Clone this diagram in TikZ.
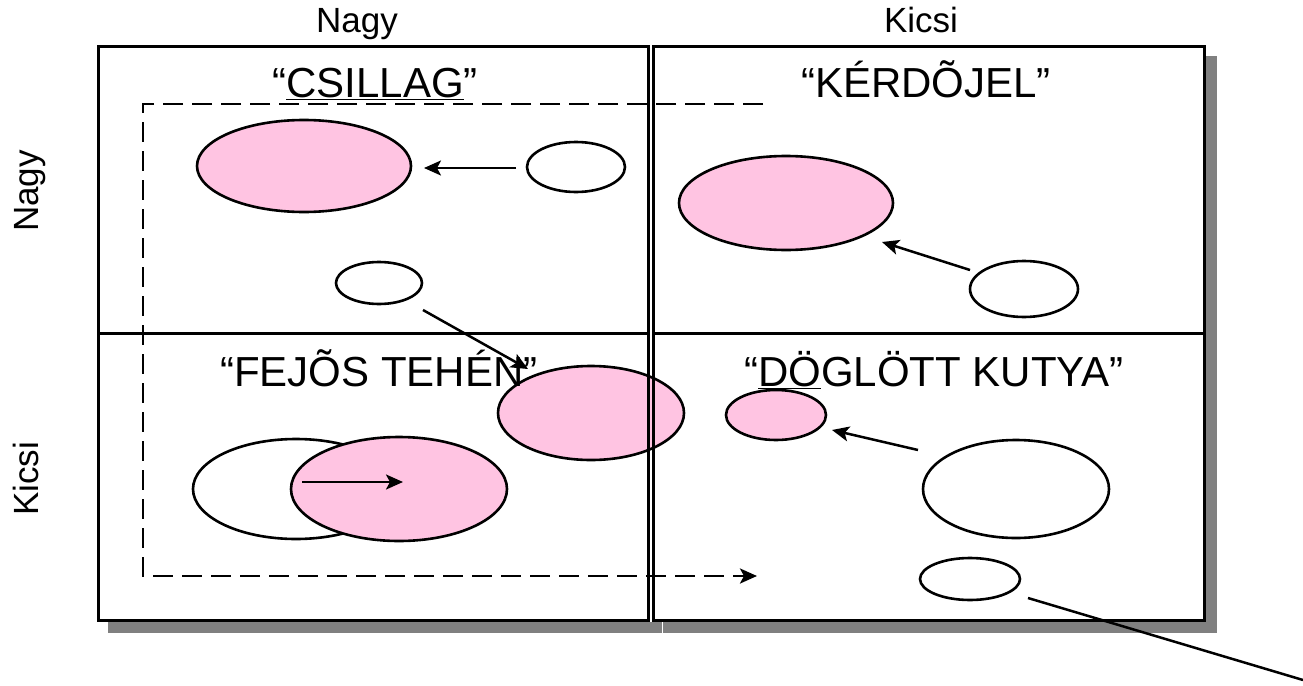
\documentclass[tikz,border=0pt]{standalone}
\usepackage{fontspec}
\setmainfont{Liberation Sans}
\usetikzlibrary{arrows.meta,shapes.geometric}
\definecolor{bcgpink}{RGB}{255,196,226}
\definecolor{shadowgray}{RGB}{128,128,128}
\tikzset{
  quadfill/.style={fill=white},
  quadline/.style={draw=black, line width=3pt},
  shadowbox/.style={fill=shadowgray},
  blob/.style={ellipse, draw=black, line width=2.6pt, inner sep=0pt, outer sep=0pt},
  pinkblob/.style={blob, fill=bcgpink},
  whiteblob/.style={blob, fill=white},
  move/.style={line width=2.5pt, -{Stealth[length=17pt,width=15pt,inset=4pt]}},
  route/.style={line width=2.8pt, dash pattern=on 20pt off 9pt, -{Stealth[length=17pt,width=15pt,inset=4pt]}},
  title/.style={font=\fontsize{42}{48}\selectfont, anchor=base, inner sep=0pt},
  axislabel/.style={font=\fontsize{35}{42}\selectfont, anchor=base, inner sep=0pt},
}
\begin{document}
\begin{tikzpicture}[x=1pt, y=-1pt]
  \useasboundingbox (0,0) rectangle (1303,685);

  % drop shadows of the four quadrants
  \foreach \xa/\ya/\xb/\yb in {97/45/650.5/334.5, 651.5/45/1205.5/334.5,
                                97/331.5/650.5/621.5, 651.5/331.5/1205.5/621.5}
    \fill[shadowbox] (\xa+11,\ya+11) rectangle (\xb+11,\yb+11);

  % quadrant backgrounds
  \fill[quadfill] (97,45) rectangle (1205.5,621.5);

  % portfolio positions
  \node[pinkblob,  minimum width=214pt, minimum height=92pt] (pTL) at (304,166) {};
  \node[whiteblob, minimum width=98pt,  minimum height=50pt] (wTL) at (576,167) {};
  \node[whiteblob, minimum width=86pt,  minimum height=42pt] (wMid) at (379,283) {};
  \node[pinkblob,  minimum width=214pt, minimum height=94pt] (pTR) at (786,203) {};
  \node[whiteblob, minimum width=108pt, minimum height=56pt] (wTR) at (1024,289) {};
  \node[whiteblob, minimum width=206pt, minimum height=100pt] (wBL) at (296,489) {};
  \node[pinkblob,  minimum width=216pt, minimum height=104pt] (pBL) at (399,489) {};
  \node[pinkblob,  minimum width=100pt, minimum height=50pt] (pBR) at (776,415) {};
  \node[whiteblob, minimum width=186pt, minimum height=98pt] (wBR) at (1016,489) {};
  \node[whiteblob, minimum width=100pt, minimum height=42pt] (wSm) at (970,579) {};

  % quadrant frames
  \draw[quadline] (98.5,46.5) rectangle (648.5,333);
  \draw[quadline] (653,46.5) rectangle (1204,333);
  \draw[quadline] (98.5,333) rectangle (648.5,620);
  \draw[quadline] (653,333) rectangle (1204,620);

  % the middle pink position lies under the frame line
  \node[pinkblob,  minimum width=186pt, minimum height=94pt] (pMid) at (591,413) {};
  \draw[black, line width=3pt] (648.5,364) -- (648.5,462);
  \draw[black, line width=3pt] (653,364) -- (653,462);

  % axis labels
  \node[axislabel] (hNagy)  at (357,33) {Nagy};
  \node[axislabel] (hKicsi) at (921,33) {Kicsi};
  \node[axislabel, rotate=90] (vNagy)  at (38,191) {Nagy};
  \node[axislabel, rotate=90] (vKicsi) at (38,479) {Kicsi};

  % quadrant titles
  \node[title] (tStar) at (375,97) {“\underline{CSILLAG}”};
  \node[title] (tQuest) at (926,97) {“KÉRDÕJEL”};
  \node[title] (tCow) at (379,386) {“FEJÕS TEHÉN”};
  \node[title] (tDog) at (934,386) {“\underline{DÖ}GLÖTT KUTYA”};

  % movements
  \draw[move] ([shift={(-60,1)}]wTL.center) -- ([shift={(120,2)}]pTL.center);
  \draw[move] ([shift={(44,27)}]wMid.center) -- ([shift={(-63,-44)}]pMid.center);
  \draw[move] ([shift={(-54,-19)}]wTR.center) -- ([shift={(96,39)}]pTR.center);
  \draw[move] ([shift={(6,-7)}]wBL.center) -- ([shift={(4,-7)}]pBL.center);
  \draw[move] ([shift={(-98,-39)}]wBR.center) -- ([shift={(56,15)}]pBR.center);

  \coordinate (tail) at (1303,680);
  \draw[line width=2.5pt] ([shift={(58,19)}]wSm.center) -- (tail);

  % cash flow route
  \coordinate (rStart) at (763,104);
  \coordinate (rCornerA) at (143,104);
  \coordinate (rCornerB) at (143,576);
  \coordinate (rEnd) at (757,576);
  \draw[route] (rStart) -- (rCornerA) -- (rCornerB) -- (rEnd);
\end{tikzpicture}
\end{document}
